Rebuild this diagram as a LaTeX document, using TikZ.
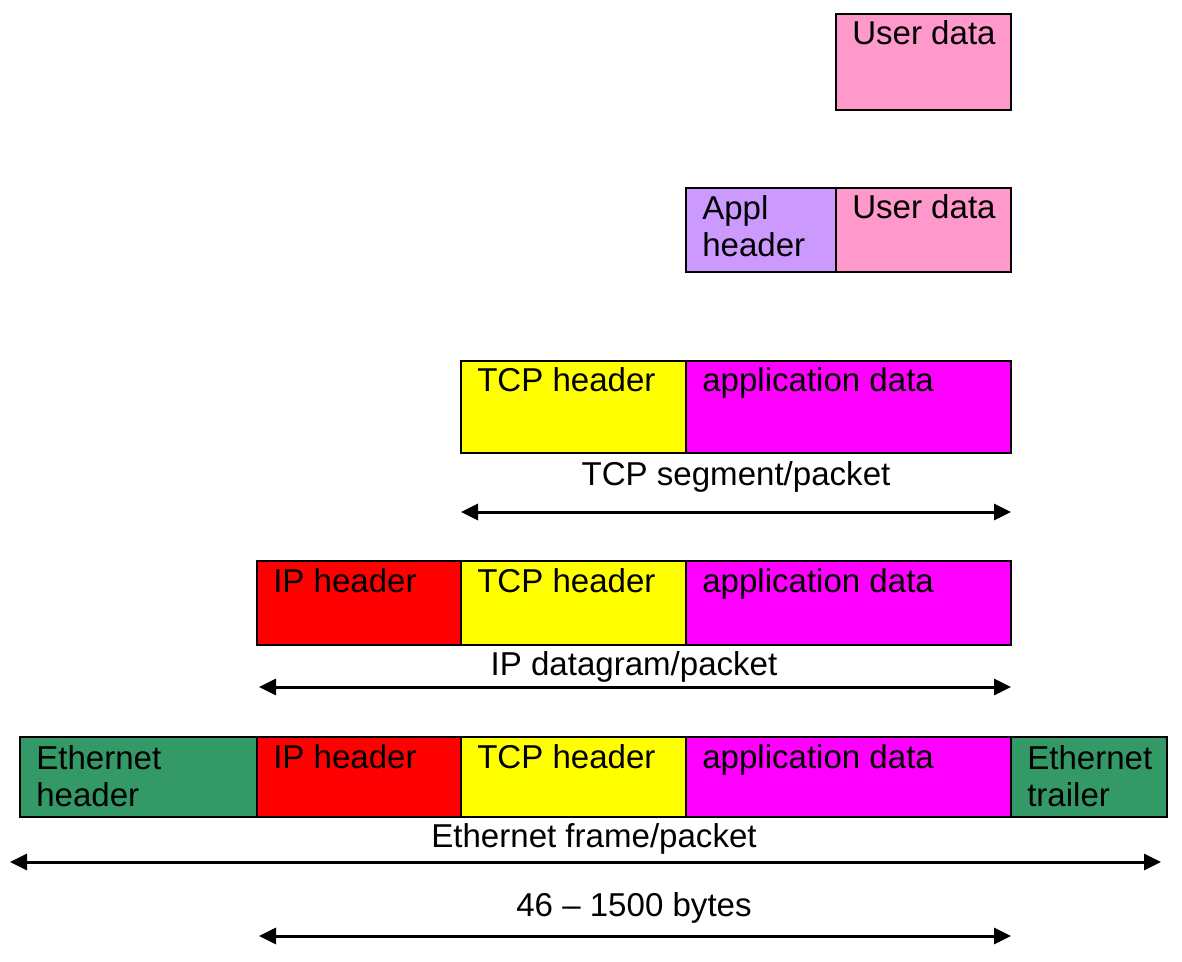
\documentclass[tikz,border=0pt]{standalone}
\usepackage{fontspec}
\setmainfont{Liberation Sans}
\usetikzlibrary{positioning,arrows.meta}
\definecolor{userpink}{HTML}{FF99CC}
\definecolor{appllilac}{HTML}{CC99FF}
\definecolor{tcpyellow}{HTML}{FFFF00}
\definecolor{appmagenta}{HTML}{FF00FF}
\definecolor{ipred}{HTML}{FF0000}
\definecolor{ethgreen}{HTML}{339966}
\def\pxu{0.75pt}

\begin{document}
\begin{tikzpicture}[x=0.75pt,y=-0.75pt,
    pkt/.style={draw=black,line width=0.9pt,rectangle,inner sep=0pt,outer sep=0pt,anchor=north west},
    txt/.style={font=\fontsize{24.8pt}{27.75pt}\selectfont,inner sep=0pt,anchor=base west,align=left},
    capt/.style={font=\fontsize{24.8pt}{27.75pt}\selectfont,inner sep=0pt,anchor=base},
    dim/.style={{Triangle[length=12.75pt,width=12pt]}-{Triangle[length=12.75pt,width=12pt]},line width=2.25pt}]
 \useasboundingbox (0,0) rectangle (1182,962);
 % user data
 \node[pkt,fill=userpink,minimum width=175*\pxu,minimum height=96*\pxu] (ud1) at (836,14) {};
 % application layer
 \node[pkt,fill=appllilac,minimum width=150*\pxu,minimum height=84*\pxu] (ah2) at (686,188) {};
 \node[pkt,fill=userpink,minimum width=175*\pxu,minimum height=84*\pxu,right=0pt of ah2] (ud2) {};
 % tcp
 \node[pkt,fill=tcpyellow,minimum width=225*\pxu,minimum height=92*\pxu] (tcp3) at (461,361) {};
 \node[pkt,fill=appmagenta,minimum width=325*\pxu,minimum height=92*\pxu,right=0pt of tcp3] (ad3) {};
 % ip
 \node[pkt,fill=ipred,minimum width=204*\pxu,minimum height=84*\pxu] (ip4) at (257,561) {};
 \node[pkt,fill=tcpyellow,minimum width=225*\pxu,minimum height=84*\pxu,right=0pt of ip4] (tcp4) {};
 \node[pkt,fill=appmagenta,minimum width=325*\pxu,minimum height=84*\pxu,right=0pt of tcp4] (ad4) {};
 % ethernet
 \node[pkt,fill=ethgreen,minimum width=237*\pxu,minimum height=80*\pxu] (eh5) at (20,737) {};
 \node[pkt,fill=ipred,minimum width=204*\pxu,minimum height=80*\pxu,right=0pt of eh5] (ip5) {};
 \node[pkt,fill=tcpyellow,minimum width=225*\pxu,minimum height=80*\pxu,right=0pt of ip5] (tcp5) {};
 \node[pkt,fill=appmagenta,minimum width=325*\pxu,minimum height=80*\pxu,right=0pt of tcp5] (ad5) {};
 \node[pkt,fill=ethgreen,minimum width=156*\pxu,minimum height=80*\pxu,right=0pt of ad5] (et5) {};

 % texts in the boxes
 \foreach \b/\t in {ud1/User data,ud2/User data,tcp3/TCP header,ad3/application data,
   ip4/IP header,tcp4/TCP header,ad4/application data,ip5/IP header,tcp5/TCP header,ad5/application data}
   \node[txt] (\b t) at ([shift={(16,31)}]\b.north west) {\t};
 \node[txt] (ah2t) at ([shift={(16,69)}]ah2.north west) {Appl\\header};
 \node[txt] (eh5t) at ([shift={(16,69)}]eh5.north west) {Ethernet\\header};
 \node[txt] (et5t) at ([shift={(16,69)}]et5.north west) {Ethernet\\trailer};

 % captions
 \node[capt] (segcap) at (736,485) {TCP segment/packet};
 \node[capt] (dgcap) at (634,675) {IP datagram/packet};
 \node[capt] (frcap) at (594,847) {Ethernet frame/packet};
 \node[capt] (bycap) at (634,916) {46 -- 1500 bytes};

 % extents
 \coordinate (segL) at (461,512); \coordinate (segR) at (1011,512);
 \coordinate (dgL) at (259,687); \coordinate (dgR) at (1011,687);
 \coordinate (frL) at (10,862); \coordinate (frR) at (1161,862);
 \coordinate (byL) at (259,936); \coordinate (byR) at (1011,936);
 \draw[dim] (segL) -- (segR);
 \draw[dim] (dgL) -- (dgR);
 \draw[dim] (frL) -- (frR);
 \draw[dim] (byL) -- (byR);
\end{tikzpicture}
\end{document}
